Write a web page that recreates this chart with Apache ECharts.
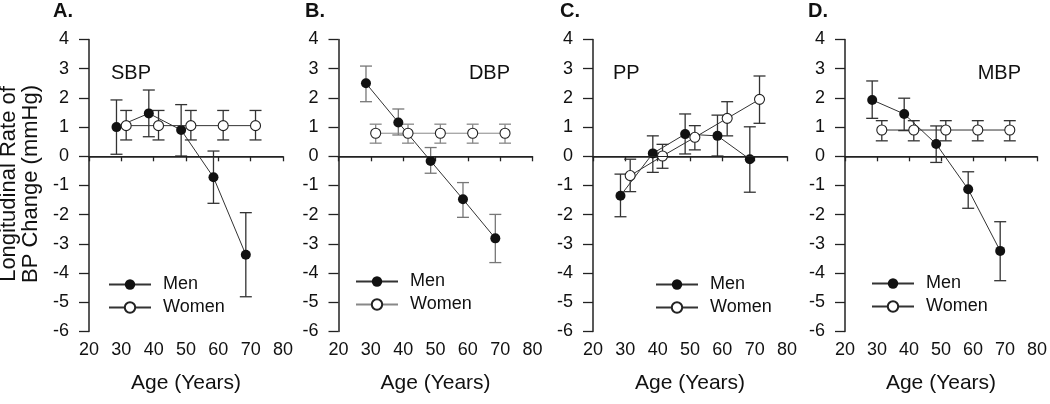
<!DOCTYPE html>
<html>
<head>
<meta charset="utf-8">
<script src="https://cdn.jsdelivr.net/npm/echarts@6/dist/echarts.min.js"></script>
<style>
html, body { margin: 0; padding: 0; background: #fff; }
#main { width: 1050px; height: 404px; }
</style>
</head>
<body>
<div id="main"></div>
<script>
// ages (men plotted slightly left, women slightly right of each decade)
var menAge = [28.5, 38.5, 48.5, 58.5, 68.5];
var womenAge = [31.5, 41.5, 51.5, 61.5, 71.5];

// A. SBP
var sbpMen = [1.0, 1.47, 0.9, -0.72, -3.37];
var sbpMenLo = [0.07, 0.67, 0.01, -1.61, -4.81];
var sbpMenHi = [1.93, 2.27, 1.77, 0.18, -1.93];
var sbpWomen = [1.05, 1.05, 1.05, 1.05, 1.05];
var sbpWomenLo = [0.56, 0.56, 0.56, 0.56, 0.56];
var sbpWomenHi = [1.57, 1.57, 1.57, 1.57, 1.57];

// B. DBP
var dbpMen = [2.5, 1.16, -0.16, -1.47, -2.81];
var dbpMenLo = [1.87, 0.73, -0.58, -2.09, -3.64];
var dbpMenHi = [3.09, 1.62, 0.3, -0.9, -1.99];
var dbpWomen = [0.79, 0.79, 0.79, 0.79, 0.79];
var dbpWomenLo = [0.45, 0.45, 0.45, 0.45, 0.45];
var dbpWomenHi = [1.1, 1.1, 1.1, 1.1, 1.1];

// C. PP
var ppMen = [-1.35, 0.1, 0.76, 0.7, -0.1];
var ppMenLo = [-2.07, -0.55, 0.08, 0.01, -1.23];
var ppMenHi = [-0.61, 0.7, 1.45, 1.41, 1.01];
var ppWomen = [-0.66, 0.01, 0.65, 1.3, 1.95];
var ppWomenLo = [-1.21, -0.41, 0.22, 0.7, 1.13];
var ppWomenHi = [-0.1, 0.41, 1.05, 1.87, 2.75];

// D. MBP
var mbpMen = [1.93, 1.45, 0.42, -1.13, -3.24];
var mbpMenLo = [1.3, 0.88, -0.21, -1.78, -4.26];
var mbpMenHi = [2.58, 1.99, 1.04, -0.53, -2.24];
var mbpWomen = [0.9, 0.9, 0.9, 0.9, 0.9];
var mbpWomenLo = [0.53, 0.53, 0.53, 0.53, 0.53];
var mbpWomenHi = [1.22, 1.22, 1.22, 1.22, 1.22];

var panelLetters = ['A.', 'B.', 'C.', 'D.'];
var panelNames = ['SBP', 'DBP', 'PP', 'MBP'];
var yTicks = [-6, -5, -4, -3, -2, -1, 0, 1, 2, 3, 4];

var panels = [
    {men: sbpMen, menLo: sbpMenLo, menHi: sbpMenHi, women: sbpWomen, womenLo: sbpWomenLo, womenHi: sbpWomenHi},
    {men: dbpMen, menLo: dbpMenLo, menHi: dbpMenHi, women: dbpWomen, womenLo: dbpWomenLo, womenHi: dbpWomenHi},
    {men: ppMen, menLo: ppMenLo, menHi: ppMenHi, women: ppWomen, womenLo: ppWomenLo, womenHi: ppWomenHi},
    {men: mbpMen, menLo: mbpMenLo, menHi: mbpMenHi, women: mbpWomen, womenLo: mbpWomenLo, womenHi: mbpWomenHi}
];

var FONT = '"Liberation Sans", Arial, sans-serif';
var lefts = [89, 338.5, 593, 845];
var legendPos = [[103, 270], [350, 267], [650, 270], [866, 269]];
var letterX = [53, 305, 560, 808];
var nameX = [111, 510, 613, 1021];
var nameAlign = ['left', 'right', 'left', 'right'];

function pairs(xs, ys) {
    return xs.map(function (x, k) { return [x, ys[k]]; });
}
function bars(xs, lo, hi) {
    return xs.map(function (x, k) { return [x, lo[k], hi[k]]; });
}
//误差线
function barRenderer(color) {
    return function (params, api) {
        var lo = api.coord([api.value(0), api.value(1)]);
        var hi = api.coord([api.value(0), api.value(2)]);
        var w = 6;
        var st = {stroke: color, lineWidth: 1.3};
        return {
            type: 'group',
            children: [
                {type: 'line', shape: {x1: lo[0], y1: lo[1], x2: hi[0], y2: hi[1]}, style: st},
                {type: 'line', shape: {x1: lo[0] - w, y1: lo[1], x2: lo[0] + w, y2: lo[1]}, style: st},
                {type: 'line', shape: {x1: hi[0] - w, y1: hi[1], x2: hi[0] + w, y2: hi[1]}, style: st}
            ]
        };
    };
}

var grid = [], xAxis = [], yAxis = [], series = [], legend = [], graphic = [];

panels.forEach(function (p, i) {
    var tag = panelLetters[i].charAt(0);
    // panel B is drawn in lighter grey
    var menLine = '#333', menBar = i === 1 ? '#777' : '#333';
    var womenLine = i === 1 ? '#888' : '#333', womenBar = i === 1 ? '#888' : '#333';

    grid.push({left: lefts[i], top: 39.5, width: 194, height: 292});
    xAxis.push({
        gridIndex: i, type: 'value', min: 20, max: 80, interval: 10,
        axisLine: {show: true, lineStyle: {color: '#222', width: 1.5}},
        axisTick: {show: true, length: 5, lineStyle: {color: '#222', width: 1.3}},
        axisLabel: {fontSize: 18, color: '#111', margin: 10, fontFamily: FONT},
        splitLine: {show: false},
        name: 'Age (Years)', nameLocation: 'middle', nameGap: 41,
        nameTextStyle: {fontSize: 21, color: '#111', fontFamily: FONT}
    });
    yAxis.push({
        gridIndex: i, type: 'value', min: yTicks[0], max: yTicks[yTicks.length - 1], interval: 1,
        axisLine: {show: true, lineStyle: {color: '#222', width: 1.5}},
        axisTick: {show: true, length: 10, lineStyle: {color: '#222', width: 1.3}},
        axisLabel: {fontSize: 18, color: '#111', margin: 20, fontFamily: FONT},
        splitLine: {show: false}
    });

    series.push({
        type: 'custom', xAxisIndex: i, yAxisIndex: i, z: 1, silent: true,
        renderItem: barRenderer(menBar),
        encode: {x: 0, y: [1, 2]},
        data: bars(menAge, p.menLo, p.menHi)
    });
    series.push({
        type: 'custom', xAxisIndex: i, yAxisIndex: i, z: 1, silent: true,
        renderItem: barRenderer(womenBar),
        encode: {x: 0, y: [1, 2]},
        data: bars(womenAge, p.womenLo, p.womenHi)
    });
    series.push({
        name: tag + '|Men', type: 'line', xAxisIndex: i, yAxisIndex: i, z: 3,
        symbol: 'circle', symbolSize: 10,
        itemStyle: {color: '#111'},
        lineStyle: {color: menLine, width: 1},
        data: pairs(menAge, p.men),
        markLine: {
            silent: true, symbol: 'none', label: {show: false},
            lineStyle: {color: '#222', width: 1, type: 'solid'},
            data: [{yAxis: 0}]
        }
    });
    series.push({
        name: tag + '|Women', type: 'line', xAxisIndex: i, yAxisIndex: i, z: 4,
        symbol: 'circle', symbolSize: 10,
        itemStyle: {color: '#fff', borderColor: '#222', borderWidth: 1.1},
        lineStyle: {color: womenLine, width: 1},
        data: pairs(womenAge, p.women)
    });

    legend.push({
        left: legendPos[i][0], top: legendPos[i][1], orient: 'vertical',
        itemWidth: 42, itemHeight: 13, itemGap: 4, selectedMode: false,
        data: [tag + '|Men', tag + '|Women'],
        formatter: function (name) { return name.split('|')[1]; },
        textStyle: {fontSize: 18, color: '#111', lineHeight: 19, padding: [0, 0, 0, 7], fontFamily: FONT}
    });

    graphic.push({
        type: 'text', x: letterX[i], y: 11,
        style: {text: panelLetters[i], fontSize: 20, fontWeight: 'bold', fontFamily: FONT, fill: '#111', verticalAlign: 'middle'}
    });
    graphic.push({
        type: 'text', x: nameX[i], y: 73,
        style: {text: panelNames[i], fontSize: 20, fontFamily: FONT, fill: '#111', align: nameAlign[i], verticalAlign: 'middle'}
    });
});

graphic.push({
    type: 'text', x: 20, y: 184, rotation: Math.PI / 2,
    style: {
        text: 'Longitudinal Rate of\nBP Change (mmHg)', fontSize: 22, lineHeight: 22,
        fontFamily: FONT, fill: '#111', align: 'center', verticalAlign: 'middle'
    }
});

var myChart = echarts.init(document.getElementById('main'));
myChart.setOption({
    animation: false,
    backgroundColor: '#fff',
    textStyle: {fontFamily: FONT},
    grid: grid,
    xAxis: xAxis,
    yAxis: yAxis,
    legend: legend,
    graphic: graphic,
    series: series
});
</script>
</body>
</html>
